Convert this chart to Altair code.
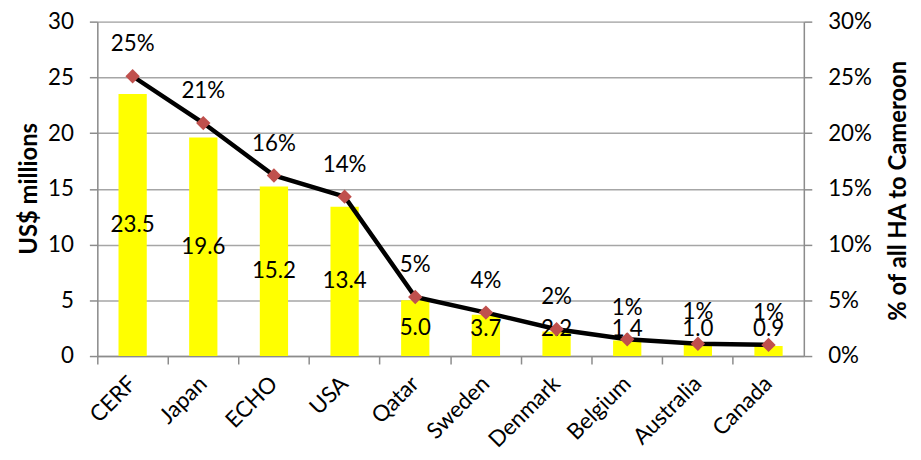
import altair as alt
import pandas as pd

donors = ["CERF", "Japan", "ECHO", "USA", "Qatar", "Sweden", "Denmark", "Belgium", "Australia", "Canada"]
usd = [23.5, 19.6, 15.2, 13.4, 5.0, 3.7, 2.2, 1.4, 1.0, 0.9]
pct = [25.1, 20.9, 16.2, 14.3, 5.3, 3.9, 2.4, 1.5, 1.1, 1.0]
pct_labels = ["25%", "21%", "16%", "14%", "5%", "4%", "2%", "1%", "1%", "1%"]

df = pd.DataFrame({"donor": donors, "usd": usd, "pct": pct, "pct_label": pct_labels})

FONT = "Lato"
FS = 22.5
TFS = 24
GRID = "#a6a6a6"
AX = "#8c8c8c"

xscale = alt.Scale(paddingInner=0, paddingOuter=0)

x_ticks_axis = alt.Axis(orient="bottom", labels=False, ticks=True, tickSize=8, bandPosition=0,
                        domainColor=AX, tickColor=AX, domainWidth=1.5, tickWidth=1.5,
                        grid=False, title=None)
x_labels_axis = alt.Axis(orient="bottom", labels=True, ticks=False, domain=False, grid=False, title=None,
                         labelAngle=-45, labelAlign="right", labelBaseline="middle",
                         labelPadding=24, labelFont=FONT, labelFontSize=FS, labelColor="black")

x_t = alt.X("donor:N", sort=donors, scale=xscale, axis=x_ticks_axis)
x_l = alt.X("donor:N", sort=donors, scale=xscale, axis=x_labels_axis)

left_axis = alt.Axis(values=[0, 5, 10, 15, 20, 25, 30], grid=True, gridColor=GRID, gridWidth=1.5,
                     domainColor=AX, domainWidth=1.5, tickColor=AX, tickWidth=1.5, tickSize=8,
                     labelFont=FONT, labelFontSize=FS, labelColor="black", labelPadding=16,
                     title="US$ millions", titleFont=FONT, titleFontSize=TFS, titleFontWeight="bold",
                     titleColor="black", titleX=-68, titleY=168, titleAngle=-90,
                     titleAlign="center", titleBaseline="middle")
right_axis = alt.Axis(orient="right", values=[0, 5, 10, 15, 20, 25, 30], grid=False,
                      domainColor=AX, domainWidth=1.5, tickColor=AX, tickWidth=1.5, tickSize=8,
                      labelFont=FONT, labelFontSize=FS, labelColor="black", labelPadding=16,
                      labelExpr="datum.value + '%'",
                      title="% of all HA to Cameroon", titleFont=FONT, titleFontSize=TFS,
                      titleFontWeight="bold", titleColor="black", titleX=95, titleY=170,
                      titleAngle=-90, titleAlign="center", titleBaseline="middle")

lscale = alt.Scale(domain=[0, 30], nice=False)
rscale = alt.Scale(domain=[0, 30], nice=False)

base = alt.Chart(df)

bars = base.mark_bar(color="#ffff00", width=alt.RelativeBandSize(0.4)).encode(
    x=x_t, y=alt.Y("usd:Q", scale=lscale, axis=left_axis))
bar_labels = base.transform_calculate(ly="max(datum.usd/2, 2.4)").mark_text(
    font=FONT, fontSize=FS, color="black", baseline="middle").encode(
    x=x_t, y=alt.Y("ly:Q", scale=lscale, axis=left_axis), text=alt.Text("usd:Q", format=".1f"))

left = alt.layer(bars, bar_labels)

line = base.mark_line(color="black", strokeWidth=4.5, interpolate="linear").encode(
    x=x_l, y=alt.Y("pct:Q", scale=rscale, axis=right_axis))
pts = base.mark_point(shape="diamond", filled=True, color="#c0504d", size=210, opacity=1).encode(
    x=x_l, y=alt.Y("pct:Q", scale=rscale, axis=right_axis))
pct_text = base.mark_text(font=FONT, fontSize=FS, color="black", baseline="middle", dy=-32).encode(
    x=x_l, y=alt.Y("pct:Q", scale=rscale, axis=right_axis), text="pct_label:N")

right = alt.layer(line, pts, pct_text)

chart = alt.layer(left, right).resolve_scale(y="independent").resolve_axis(x="independent").properties(
    width=712, height=337,
    autosize=alt.AutoSizeParams(type="none"),
    padding={"left": 90, "top": 12, "right": 110, "bottom": 100},
).configure_view(stroke=None).configure(background="white")

chart.save("out.html", embed_options={"renderer": "svg", "actions": False})
